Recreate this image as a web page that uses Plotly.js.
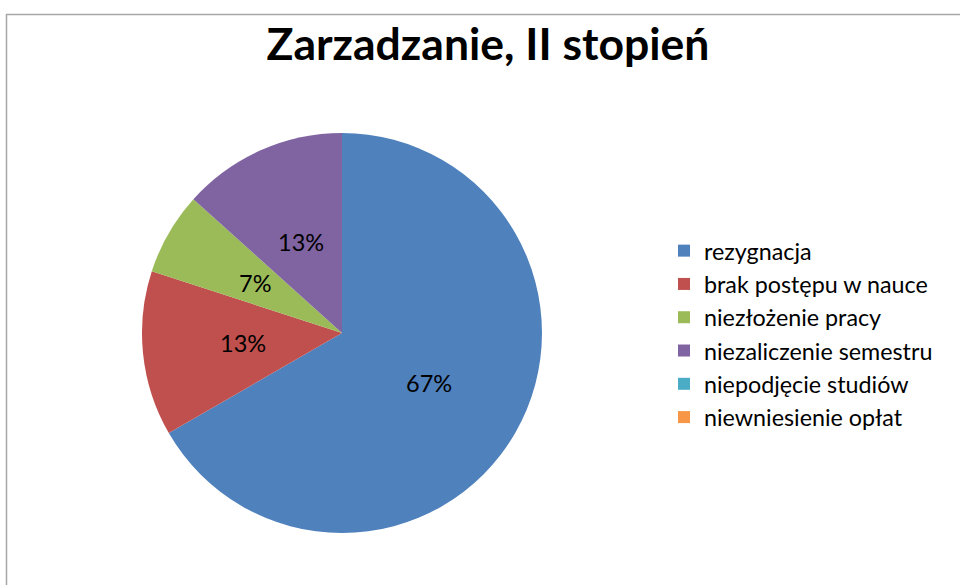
<!DOCTYPE html>
<html><head><meta charset="utf-8">
<script src="https://cdn.plot.ly/plotly-3.0.1.min.js"></script>
<style>html,body{margin:0;padding:0;background:#fff}#chart{width:960px;height:585px}</style>
</head><body><div id="chart"></div>
<script>
var categories = ["rezygnacja","brak postępu w nauce","niezłożenie pracy","niezaliczenie semestru","niepodjęcie studiów","niewniesienie opłat"];
var counts = [10, 2, 1, 2, 0, 0];
var colors = ["#4F81BD","#C0504D","#9BBB59","#8064A2","#4BACC6","#F79646"];
var chartTitle = "Zarzadzanie, II stopień";

var W = 960, H = 585;
var pieLeft = 142, pieRight = 542, pieTop = 133, pieBottom = 533;
var cx = (pieLeft + pieRight) / 2, cy = (pieTop + pieBottom) / 2, R = (pieRight - pieLeft) / 2;

var trace = {
  type: "pie",
  labels: categories,
  values: counts,
  sort: false,
  direction: "clockwise",
  rotation: 0,
  marker: {colors: colors, line: {width: 0}},
  textinfo: "none",
  domain: {x: [pieLeft/W, pieRight/W], y: [1-pieBottom/H, 1-pieTop/H]},
  hoverinfo: "label+value+percent"
};

// percentage labels placed at half radius on each slice's mid-angle (as in the original)
var total = counts.reduce(function(a,b){return a+b;}, 0);
var annotations = [];
var cum = 0;
counts.forEach(function(v){
  if (v > 0) {
    var mid = (cum + v/2) / total * 2 * Math.PI;
    annotations.push({
      xref: "paper", yref: "paper",
      x: (cx + 0.5*R*Math.sin(mid)) / W,
      y: 1 - (cy - 0.5*R*Math.cos(mid)) / H,
      text: Math.round(v/total*100) + "%",
      showarrow: false, xanchor: "center", yanchor: "middle",
      font: {family: "Lato, sans-serif", size: 23.5, color: "#000"}
    });
  }
  cum += v;
});

var layout = {
  width: W, height: H,
  margin: {l:0, r:0, t:0, b:0},
  paper_bgcolor: "#fff",
  font: {family: "Lato, sans-serif", color: "#000"},
  title: {text: chartTitle, font: {family: "Lato, sans-serif", size: 44.5, weight: 700, color: "#000"}, x: 488/W, xanchor: "center", y: 1-44/H, yanchor: "middle"},
  showlegend: true,
  legend: {x: 664/W, xanchor: "left", y: 1-229/H, yanchor: "top", font: {size: 23.3, family: "Lato, sans-serif"}, bgcolor: "rgba(0,0,0,0)", itemclick: false},
  annotations: annotations,
  shapes: [{type: "rect", xref: "paper", yref: "paper", x0: 6.5/W, x1: 1.02, y0: -0.02, y1: 1-14.5/H, line: {color: "#a6a6a6", width: 1.5}}]
};
Plotly.newPlot("chart", [trace], layout, {displayModeBar: false, staticPlot: true});
</script></body></html>
